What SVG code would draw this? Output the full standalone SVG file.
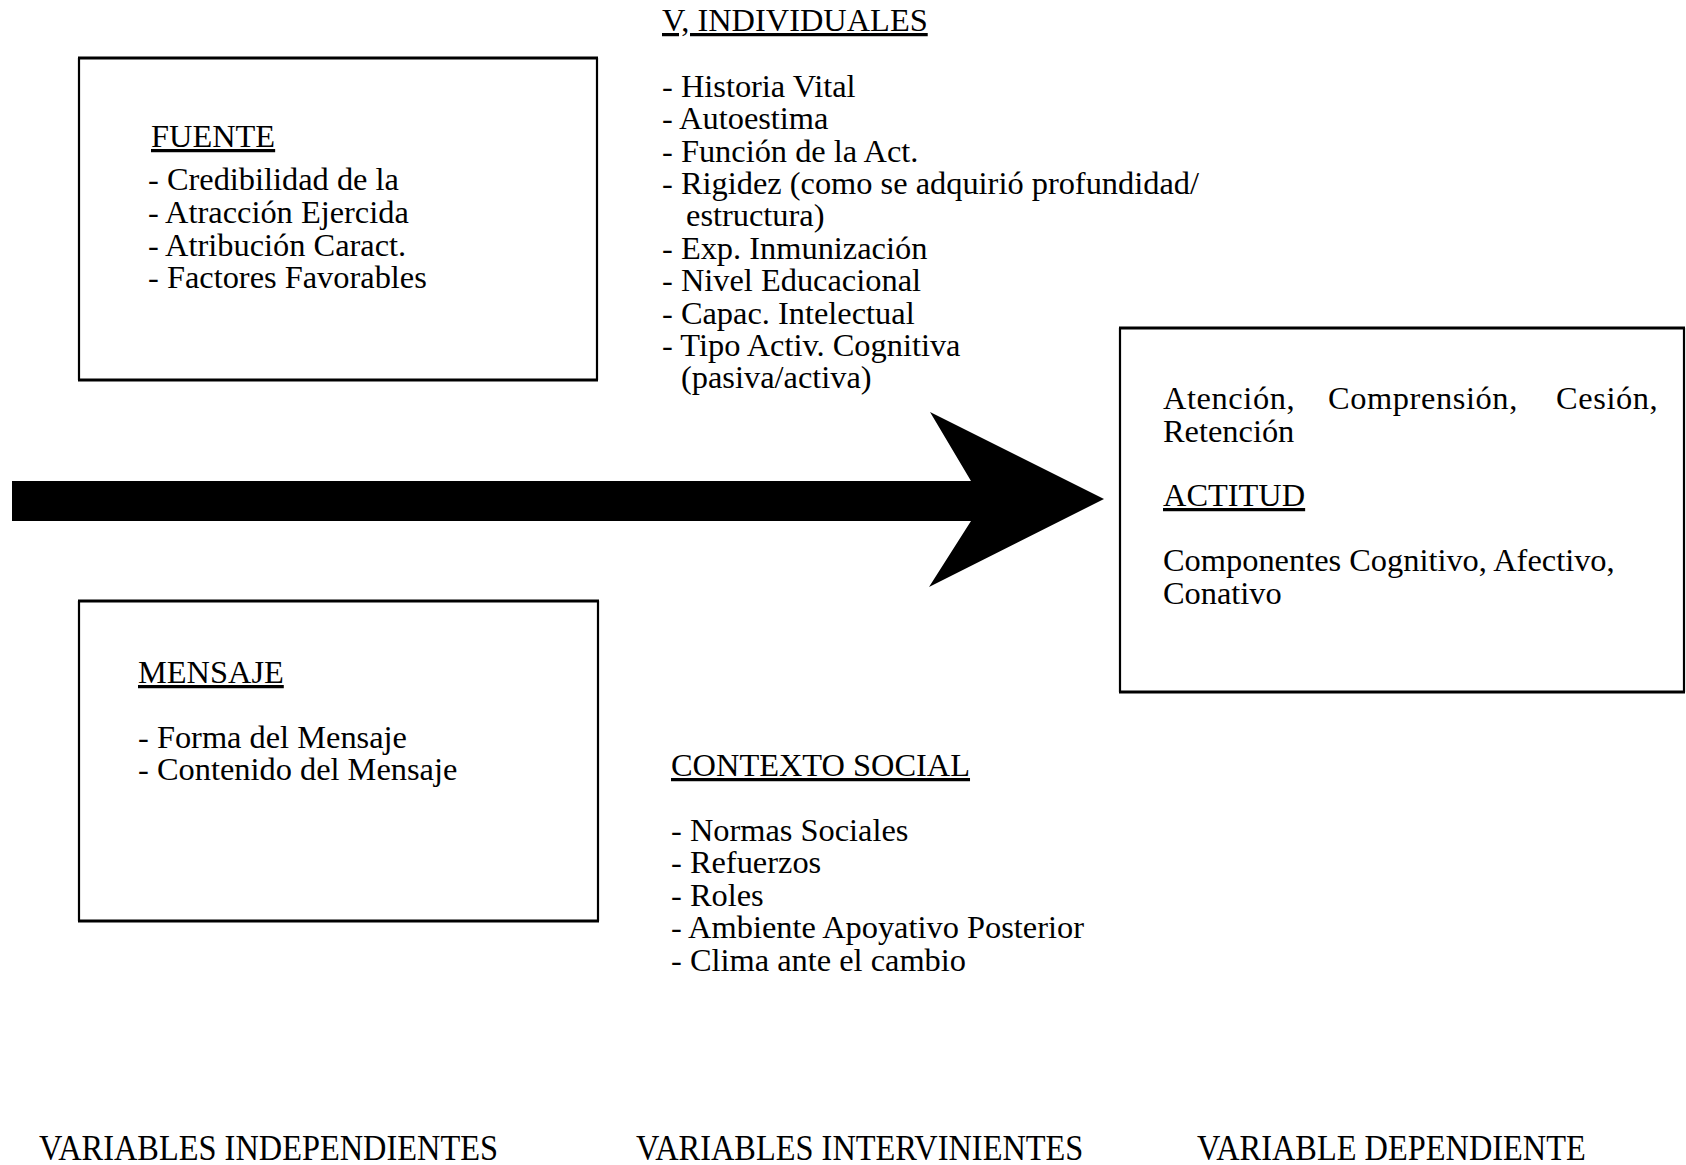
<svg xmlns="http://www.w3.org/2000/svg" width="1686" height="1165" viewBox="0 0 1686 1165">
  <style>
    text { font-family: "Liberation Serif", "Times New Roman", serif; font-size: 32.4px; fill: #000; }
    .head { text-decoration: underline; }
    .hz { stroke: #000; stroke-width: 3; }
    .vt { stroke: #000; stroke-width: 2.2; }
  </style>
  <rect width="1686" height="1165" fill="#fff"/>

  <!-- Source box -->
  <g id="fuente">
    <line class="hz" x1="78" y1="58" x2="598" y2="58"/>
    <line class="hz" x1="78" y1="380" x2="598" y2="380"/>
    <line class="vt" x1="79" y1="58" x2="79" y2="380"/>
    <line class="vt" x1="597" y1="58" x2="597" y2="380"/>
    <text x="151" y="147" class="head">FUENTE</text>
    <text x="148" y="190">- Credibilidad de la</text>
    <text x="148" y="223">- Atracción Ejercida</text>
    <text x="148" y="255.5">- Atribución Caract.</text>
    <text x="148" y="288">- Factores Favorables</text>
  </g>

  <!-- Individual variables -->
  <g id="individuales">
    <text x="662" y="31" class="head">V, INDIVIDUALES</text>
    <text x="662" y="96.7">- Historia Vital</text>
    <text x="662" y="129.1">- Autoestima</text>
    <text x="662" y="161.5">- Función de la Act.</text>
    <text x="662" y="193.9">- Rigidez (como se adquirió profundidad/</text>
    <text x="686" y="226.3">estructura)</text>
    <text x="662" y="258.7">- Exp. Inmunización</text>
    <text x="662" y="291.1">- Nivel Educacional</text>
    <text x="662" y="323.5">- Capac. Intelectual</text>
    <text x="662" y="355.9">- Tipo Activ. Cognitiva</text>
    <text x="681" y="388.3">(pasiva/activa)</text>
  </g>

  <!-- Message box -->
  <g id="mensaje">
    <line class="hz" x1="78" y1="601" x2="599" y2="601"/>
    <line class="hz" x1="78" y1="921" x2="599" y2="921"/>
    <line class="vt" x1="79" y1="601" x2="79" y2="921"/>
    <line class="vt" x1="598" y1="601" x2="598" y2="921"/>
    <text x="138" y="683" class="head">MENSAJE</text>
    <text x="138" y="747.5">- Forma del Mensaje</text>
    <text x="138" y="779.5">- Contenido del Mensaje</text>
  </g>

  <!-- Social context -->
  <g id="contexto">
    <text x="671" y="776" class="head">CONTEXTO SOCIAL</text>
    <text x="671" y="841">- Normas Sociales</text>
    <text x="671" y="873.4">- Refuerzos</text>
    <text x="671" y="905.8">- Roles</text>
    <text x="671" y="938.2">- Ambiente Apoyativo Posterior</text>
    <text x="671" y="970.6">- Clima ante el cambio</text>
  </g>

  <!-- Attitude box -->
  <g id="actitud">
    <line class="hz" x1="1119" y1="328" x2="1685" y2="328"/>
    <line class="hz" x1="1119" y1="692" x2="1685" y2="692"/>
    <line class="vt" x1="1120" y1="328" x2="1120" y2="692"/>
    <line class="vt" x1="1684" y1="328" x2="1684" y2="692"/>
    <text y="409" letter-spacing="0.6"><tspan x="1163">Atención,</tspan><tspan x="1328">Comprensión,</tspan><tspan x="1556">Cesión,</tspan></text>
    <text x="1163" y="441.5">Retención</text>
    <text x="1163" y="506" class="head">ACTITUD</text>
    <text x="1163" y="571">Componentes Cognitivo, Afectivo,</text>
    <text x="1163" y="603.5">Conativo</text>
  </g>

  <!-- Column captions -->
  <g id="captions">
    <text transform="translate(39,1160) scale(1,1.12)">VARIABLES INDEPENDIENTES</text>
    <text transform="translate(636,1160) scale(1,1.12)">VARIABLES INTERVINIENTES</text>
    <text transform="translate(1197,1160) scale(1,1.12)">VARIABLE DEPENDIENTE</text>
  </g>

  <!-- Flow arrow -->
  <g id="connectors">
    <path d="M12,481 L971,481 L930,412 L1104,499 L929,587 L971,521 L12,521 Z" fill="#000"/>
  </g>
</svg>
